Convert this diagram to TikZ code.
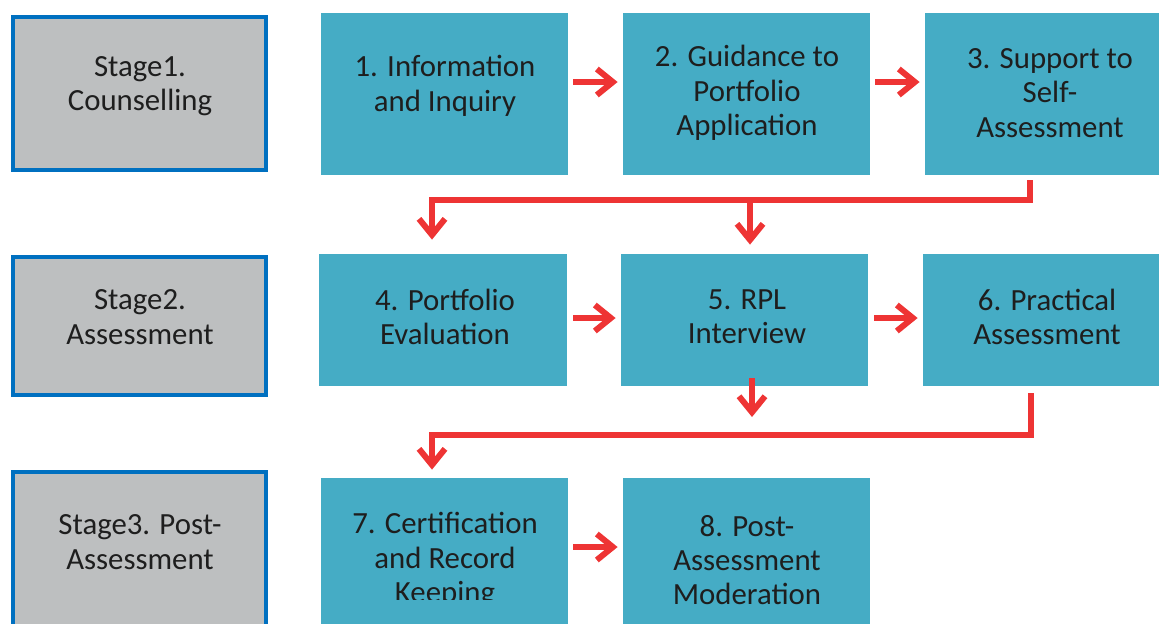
\documentclass[tikz,border=0pt]{standalone}
\usepackage{fontspec}
\setmainfont{Carlito}
\usetikzlibrary{arrows.meta}

\definecolor{stagegray}{RGB}{189,191,192}
\definecolor{stageblue}{RGB}{0,112,192}
\definecolor{stepteal}{RGB}{69,172,197}
\definecolor{flowred}{RGB}{238,52,52}
\definecolor{inkgray}{RGB}{30,30,30}

\tikzset{
    flow/.style={draw=flowred, line width=3pt},
}

\begin{document}
\begin{tikzpicture}[x=0.5pt, y=-0.5pt]
    \useasboundingbox (0,0) rectangle (1159,623);
    \clip (0,0) rectangle (1159,623);

    \begin{scope}[every node/.style={rectangle, fill=stagegray, draw=stageblue, line width=2pt, inner sep=0pt, minimum width=126.5pt}]
        \node[minimum height=76.5pt] (st1) at (139.5,93.5) {};
        \node[minimum height=69pt] (st2) at (139.5,326) {};
        \node[minimum height=114pt] (st3) at (139.5,586) {};
    \end{scope}

    \begin{scope}[every node/.style={rectangle, fill=stepteal, inner sep=0pt}]
        \node[minimum width=123.5pt, minimum height=81pt] (b1) at (444.5,94) {};
        \node[minimum width=123.5pt, minimum height=81pt] (b2) at (746.5,94) {};
        \node[minimum width=120pt, minimum height=81pt] (b3) at (1045,94) {};
        \node[minimum width=124pt, minimum height=66pt] (b4) at (443,320) {};
        \node[minimum width=123.5pt, minimum height=66pt] (b5) at (744.5,320) {};
        \node[minimum width=121pt, minimum height=66pt] (b6) at (1044,320) {};
        \node[minimum width=123.5pt, minimum height=111pt] (b7) at (444.5,589) {};
        \node[minimum width=123.5pt, minimum height=111pt] (b8) at (746.5,589) {};
    \end{scope}

    \begin{scope}[every node/.style={align=center, text=inkgray, inner sep=0pt, font=\fontsize{15.4pt}{17.2pt}\selectfont}]
        \node (st1text) at (140,86) {Stage1.\\Counselling};
        \node (st2text) at (140,317) {Stage2.\\Assessment};
        \node (st3text) at (140,542) {Stage3. Post-\\Assessment};
        \node (b1text) at (445,86) {1. Information\\and Inquiry};
        \node (b2text) at (747,93) {2. Guidance to\\Portfolio\\Application};
        \node (b3text) at (1050,93) {3. Support to\\Self-\\Assessment};
        \node (b4text) at (445,317) {4. Portfolio\\Evaluation};
        \node (b5text) at (747,317) {5. RPL\\Interview};
        \node (b6text) at (1047,317) {6. Practical\\Assessment};
        \node (b8text) at (747,560) {8. Post-\\Assessment\\Moderation};
        \begin{scope}
            \clip (321,478) rectangle (568,599);
            \node (b7text) at (445,560) {7. Certification\\and Record\\Keeping};
        \end{scope}
    \end{scope}

    \coordinate (bus1) at (432,200);
    \coordinate (split1) at (750,200);
    \coordinate (drop5) at (752,417);
    \coordinate (bus2) at (432,435);

    \begin{scope}[>={Straight Barb[length=8pt,width=13pt]}, every edge/.style={flow}]
        \path [->] ([yshift=6pt]b1.east) edge[shorten <=2.5pt, shorten >=2.5pt] ([yshift=6pt]b2.west);
        \path [->] ([yshift=6pt]b2.east) edge[shorten <=2.5pt, shorten >=2.5pt] ([yshift=6pt]b3.west);
        \path [->] ([yshift=1pt]b4.east) edge[shorten <=3pt, shorten >=2.5pt] ([yshift=1pt]b5.west);
        \path [->] ([yshift=1pt]b5.east) edge[shorten <=3pt, shorten >=2.5pt] ([yshift=1pt]b6.west);
        \path [->] ([yshift=21pt]b7.east) edge[shorten <=2.5pt, shorten >=2.5pt] ([yshift=21pt]b8.west);

        \draw [flow, ->, shorten >=7pt] ([xshift=-7.5pt,yshift=-2.5pt]b3.south) |- (bus1) -- (bus1 |- b4.north);
        \draw [flow, ->, shorten >=4.5pt] (split1) -- (split1 |- b5.north);
        \draw [flow, ->] ([xshift=3.75pt,yshift=4pt]b5.south) -- (drop5);
        \draw [flow, ->, shorten >=4pt] ([xshift=-6.5pt,yshift=-3.5pt]b6.south) |- (bus2) -- (bus2 |- b7.north);
    \end{scope}
\end{tikzpicture}
\end{document}
